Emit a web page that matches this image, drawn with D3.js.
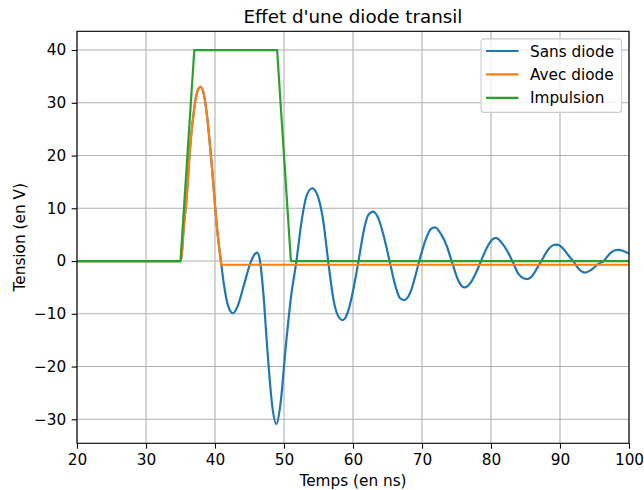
<!DOCTYPE html>
<html>
<head>
<meta charset="utf-8">
<script src="https://cdn.jsdelivr.net/npm/d3@7"></script>
<style>
  body { margin: 0; background: #fff; }
  svg { display: block; font-family: "DejaVu Sans", sans-serif; }
</style>
</head>
<body>
<svg id="chart" width="644" height="490"></svg>
<script>
// ---- data ----
const title = "Effet d'une diode transil";
const xLabel = "Temps (en ns)";
const yLabel = "Tension (en V)";
const xTicks = [20, 30, 40, 50, 60, 70, 80, 90, 100];
const yTicks = [-30, -20, -10, 0, 10, 20, 30, 40];
const seriesNames = ["Sans diode", "Avec diode", "Impulsion"];

const sansDiode = [
  [20,0],[35,0],[35.2,1.5],[35.4,5.2],[35.9,12.2],[36.4,21.7],[36.9,28],[37.4,32],[37.9,33],
  [38.4,31.5],[38.8,28],[39.5,18.6],[40.3,6.2],[40.9,-0.5],[41.3,-4.5],[41.9,-8.5],[42.6,-9.9],
  [43.3,-8.5],[44.2,-4.5],[45.1,-0.5],[45.7,1.2],[46.1,1.6],[46.5,0.2],[47.0,-6],
  [47.6,-17],[48.3,-27.5],[48.9,-30.9],[49.5,-27],[50.2,-17],[51.0,-7],[51.8,0],
  [52.6,8],[53.3,12.5],[54.1,13.8],[54.9,12.3],[55.7,7.5],[56.4,0],[57.2,-7.5],
  [57.8,-10.3],[58.5,-11.2],[59.3,-9.5],[60.1,-5],[60.8,0],[61.6,6],[62.2,8.7],
  [62.9,9.35],[63.7,8],[64.5,4.5],[65.3,0],[66.2,-5],[66.8,-7],[67.4,-7.4],[68.3,-6],
  [69.0,-3],[69.6,0],[70.6,4.3],[71.3,6.1],[71.9,6.4],[72.8,5],[73.6,2.8],[74.3,0],
  [75.2,-3.5],[75.8,-4.8],[76.2,-5.0],[77.1,-4],[77.9,-2],[78.55,0],[79.6,3.0],
  [80.2,4.1],[80.7,4.4],[81.6,3.4],[82.4,1.8],[83.1,0],[84.0,-2.5],[84.8,-3.3],
  [85.3,-3.4],[86.1,-2.6],[86.7,-1.3],[87.3,0],[88.3,2.2],[89.0,3.0],[89.6,3.1],
  [90.5,2.3],[91.2,1.1],[91.9,0],[92.8,-1.6],[93.3,-2.1],[93.6,-2.2],[94.5,-1.7],
  [95.5,-0.6],[96.3,0],[97.3,1.5],[97.9,2.0],[98.4,2.1],[99.2,1.9],[100,1.4]
];
const avecDiodeRise = [
  [20,0],[35,0],[35.2,1.5],[35.4,5.2],[35.9,12.2],[36.4,21.7],[36.9,28],[37.4,32],[37.9,33],
  [38.4,31.5],[38.8,28],[39.5,18.6],[40.3,6.2],[40.9,-0.7]
];
const avecDiodeFlat = [[40.9,-0.7],[100,-0.7]];
const impulsion = [[20,0],[35,0],[37,40],[49,40],[51,0],[100,0]];
const colors = ["#1f77b4", "#ff7f0e", "#2ca02c"];

// ---- layout ----
const svg = d3.select("#chart");
const L = 77, R = 629, T = 31.3, B = 443.3;
const x = d3.scaleLinear().domain([20, 100]).range([L, R]);
const y = d3.scaleLinear().domain([-34.55, 43.55]).range([B, T]);
const fs = 15.3;

svg.append("rect").attr("width", 644).attr("height", 490).attr("fill", "#fff");

// grid
const grid = svg.append("g");
grid.selectAll(".gx").data(xTicks).join("line")
  .attr("x1", d => x(d)).attr("x2", d => x(d)).attr("y1", T).attr("y2", B)
  .attr("stroke", "#b0b0b0").attr("stroke-width", 1.1);
grid.selectAll(".gy").data(yTicks).join("line")
  .attr("y1", d => y(d)).attr("y2", d => y(d)).attr("x1", L).attr("x2", R)
  .attr("stroke", "#b0b0b0").attr("stroke-width", 1.1);

// clip
svg.append("clipPath").attr("id", "clip").append("rect")
  .attr("x", L).attr("y", T).attr("width", R - L).attr("height", B - T);

const plot = svg.append("g").attr("clip-path", "url(#clip)");
const smooth = d3.line().x(d => x(d[0])).y(d => y(d[1])).curve(d3.curveMonotoneX);
const straight = d3.line().x(d => x(d[0])).y(d => y(d[1]));

plot.append("path").attr("d", smooth(sansDiode)).attr("fill", "none")
  .attr("stroke", colors[0]).attr("stroke-width", 2.2).attr("stroke-linejoin", "round");
plot.append("path").attr("d", smooth(avecDiodeRise) + straight(avecDiodeFlat).replace("M", "L")).attr("fill", "none")
  .attr("stroke", colors[1]).attr("stroke-width", 2.2).attr("stroke-linejoin", "round");
plot.append("path").attr("d", straight(impulsion)).attr("fill", "none")
  .attr("stroke", colors[2]).attr("stroke-width", 2.2).attr("stroke-linejoin", "round");

// axes
const fmt = d => (d < 0 ? "\u2212" + Math.abs(d) : String(d));
const xAxis = d3.axisBottom(x).tickValues(xTicks).tickSize(5.35).tickPadding(5.35).tickFormat(fmt);
const yAxis = d3.axisLeft(y).tickValues(yTicks).tickSize(5.35).tickPadding(5.35).tickFormat(fmt);
const gx = svg.append("g").attr("transform", `translate(0,${B})`).call(xAxis);
const gy = svg.append("g").attr("transform", `translate(${L},0)`).call(yAxis);
[gx, gy].forEach(g => {
  g.select(".domain").remove();
  g.selectAll(".tick line").attr("stroke", "#000").attr("stroke-width", 1.1);
  g.selectAll(".tick text").attr("fill", "#000").style("font-size", fs + "px")
    .style("font-family", "DejaVu Sans");
});

// spines
svg.append("rect").attr("x", L).attr("y", T).attr("width", R - L).attr("height", B - T)
  .attr("fill", "none").attr("stroke", "#000").attr("stroke-width", 1.1);

// texts
svg.append("text").attr("x", (L + R) / 2).attr("y", 22.7).attr("text-anchor", "middle")
  .style("font-size", "18.3px").text(title);
svg.append("text").attr("x", (L + R) / 2).attr("y", 486).attr("text-anchor", "middle")
  .style("font-size", fs + "px").text(xLabel);
svg.append("text").attr("transform", `translate(24.5,${(T + B) / 2}) rotate(-90)`)
  .attr("text-anchor", "middle").style("font-size", fs + "px").text(yLabel);

// legend
const lg = svg.append("g");
lg.append("rect").attr("x", 481).attr("y", 38.9).attr("width", 140.5).attr("height", 73.5)
  .attr("rx", 3).attr("fill", "#fff").attr("fill-opacity", 0.8)
  .attr("stroke", "#cccccc").attr("stroke-width", 1.1);
seriesNames.forEach((name, i) => {
  const yy = 51 + i * 23.4;
  lg.append("line").attr("x1", 486).attr("x2", 518.5).attr("y1", yy).attr("y2", yy)
    .attr("stroke", colors[i]).attr("stroke-width", 2.2);
  lg.append("text").attr("x", 530).attr("y", yy + 5.5).style("font-size", fs + "px").text(name);
});
</script>
</body>
</html>
